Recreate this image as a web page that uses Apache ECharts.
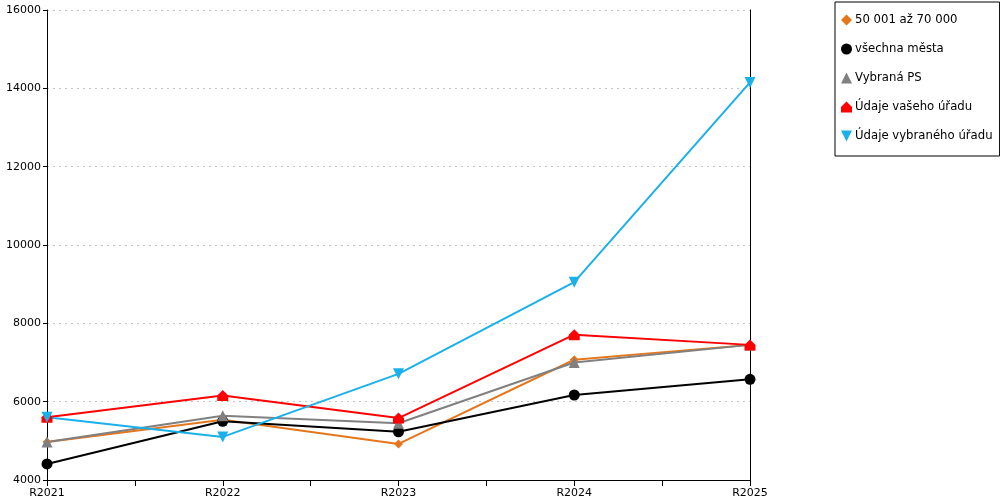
<!DOCTYPE html>
<html>
<head>
<meta charset="utf-8">
<script src="https://cdn.jsdelivr.net/npm/echarts@6/dist/echarts.min.js"></script>
<style>
  html, body { margin: 0; padding: 0; background: #fff; }
  #chart { width: 1000px; height: 500px; }
</style>
</head>
<body>
<div id="chart"></div>
<script>
// data
var years = ['R2021', 'R2022', 'R2023', 'R2024', 'R2025'];
var seriesNames = ['50 001 až 70 000', 'všechna města', 'Vybraná PS', 'Údaje vašeho úřadu', 'Údaje vybraného úřadu'];
var skupina = [4970, 5540, 4920, 7070, 7450];
var vsechnaMesta = [4410, 5500, 5230, 6170, 6570];
var vybranaPS = [4970, 5640, 5450, 7000, 7450];
var vasUrad = [5600, 6160, 5580, 7710, 7450];
var vybranyUrad = [5600, 5100, 6710, 9050, 14150];

var colors = ['#E5761C', '#000000', '#808080', '#FF0000', '#1AB0EA'];
var houseIcon = 'path://M5,0 L10,5 L10,10 L0,10 L0,5 Z';
var downIcon = 'path://M0,0 L10,0 L5,10 Z';
var symbols = ['diamond', 'circle', 'triangle', houseIcon, downIcon];
var sizes = [9, 11, 11, 11, 11];
var values = [skupina, vsechnaMesta, vybranaPS, vasUrad, vybranyUrad];

var chart = echarts.init(document.getElementById('chart'));

var series = [];
for (var i = 0; i < values.length; i++) {
  series.push({
    name: seriesNames[i],
    type: 'line',
    data: values[i],
    symbol: symbols[i],
    symbolSize: sizes[i],
    showAllSymbol: true,
    color: colors[i],
    lineStyle: { width: 2, color: colors[i] },
    itemStyle: { color: colors[i] },
    animation: false
  });
}

var option = {
  textStyle: { fontFamily: 'DejaVu Sans' },
  grid: { left: 47, right: 250, top: 10, bottom: 20 },
  legend: {
    orient: 'vertical',
    left: 835,
    top: 2,
    padding: [12, 7, 14, 6],
    itemGap: 17,
    itemWidth: 11,
    itemHeight: 11,
    borderColor: '#000',
    borderWidth: 1,
    textStyle: { fontSize: 11.7, color: '#000', fontFamily: 'DejaVu Sans', padding: [0, 0, 0, -2] },
    data: seriesNames.map(function (n, i) { return { name: n, icon: symbols[i] }; })
  },
  xAxis: [
    {
      type: 'category',
      data: years,
      boundaryGap: false,
      axisLine: { lineStyle: { color: '#000' } },
      axisTick: { show: true, length: 6, lineStyle: { color: '#000' } },
      axisLabel: { color: '#000', fontSize: 11, margin: 8 }
    },
    {
      // ticks between the years
      type: 'category',
      data: ['', '', '', '', '', '', '', ''],
      boundaryGap: true,
      position: 'bottom',
      axisLine: { show: false },
      axisTick: { show: true, length: 6, lineStyle: { color: '#000' } },
      axisLabel: { show: false }
    }
  ],
  yAxis: [
    {
      type: 'value',
      min: 4000,
      max: 16000,
      interval: 2000,
      axisLine: { show: true, lineStyle: { color: '#000' } },
      axisTick: { show: true, length: 4, lineStyle: { color: '#000' } },
      axisLabel: { color: '#000', fontSize: 11, margin: 6, formatter: function (v) { return String(v); } },
      splitLine: { lineStyle: { color: '#c4c4c4', type: [2, 4] } }
    },
    {
      type: 'value',
      min: 4000,
      max: 16000,
      interval: 2000,
      position: 'right',
      axisLine: { show: true, lineStyle: { color: '#000' } },
      axisTick: { show: false },
      axisLabel: { show: false },
      splitLine: { show: false }
    }
  ],
  series: series
};

chart.setOption(option);
</script>
</body>
</html>
